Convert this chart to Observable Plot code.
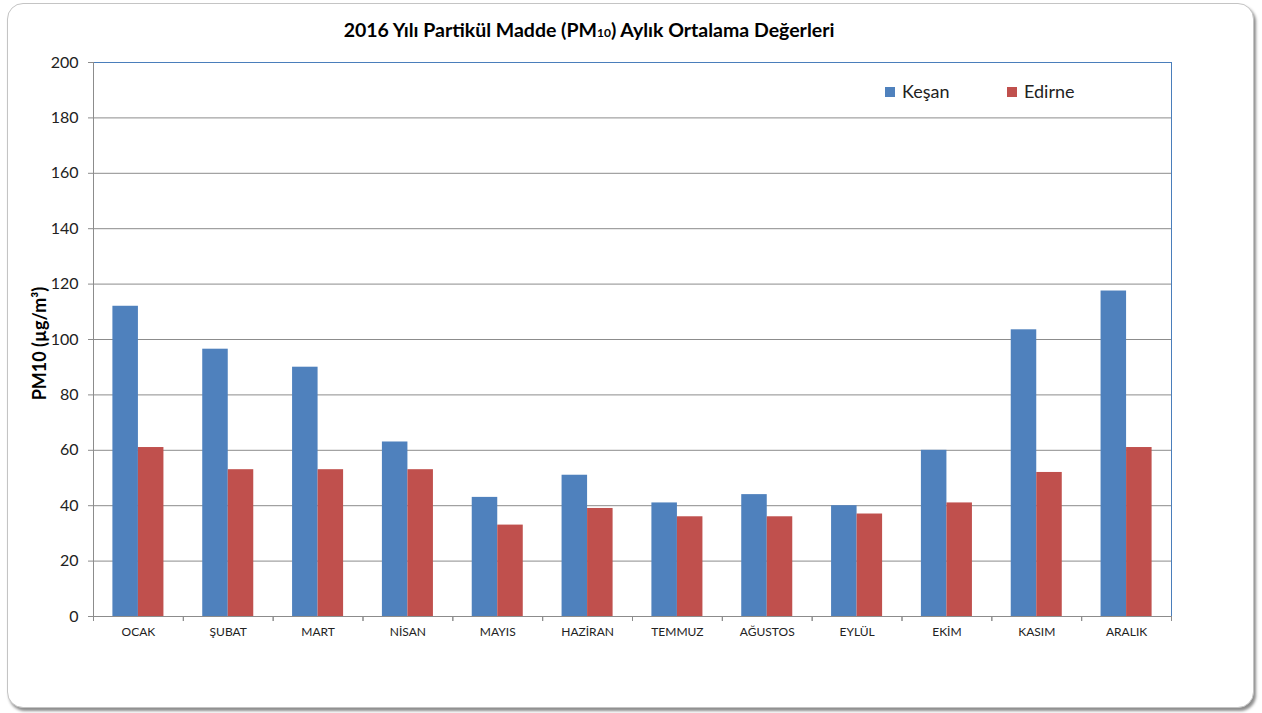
<!DOCTYPE html>
<html><head><meta charset="utf-8">
<script src="https://cdn.jsdelivr.net/npm/d3@7"></script>
<script src="https://cdn.jsdelivr.net/npm/@observablehq/plot@0.6"></script>
<style>
body{margin:0;background:#fff;font-family:Lato,"Open Sans",sans-serif;}
#wrap{position:relative;width:1262px;height:713px;overflow:hidden;background:#fff;}
#frame{position:absolute;left:7px;top:3px;width:1245px;height:703px;border:1px solid #c4c4c4;border-radius:16px;box-shadow:2px 3px 3px rgba(0,0,0,0.45);background:#fff;}
#title{position:absolute;top:18px;left:0;width:1178px;text-align:center;font-weight:bold;font-size:19.5px;color:#000;}
#title sub{font-size:12px;vertical-align:baseline;position:relative;top:0px;}
#chart{position:absolute;left:0;top:0;}
.lg{position:absolute;top:80px;font-size:18px;color:#222;}
.lg span{display:inline-block;width:10px;height:10px;margin-right:7px;vertical-align:1px;}
</style></head>
<body>
<div id="wrap">
<div id="frame"></div>
<div id="chart"></div>
<div id="title">2016 Yılı Partikül Madde (PM<sub>10</sub>) Aylık Ortalama Değerleri</div>
<div class="lg" style="left:885px"><span style="background:#4F81BD"></span>Keşan</div>
<div class="lg" style="left:1007px"><span style="background:#C0504D"></span>Edirne</div>
</div>
<script>
const months = ["OCAK","ŞUBAT","MART","NİSAN","MAYIS","HAZİRAN","TEMMUZ","AĞUSTOS","EYLÜL","EKİM","KASIM","ARALIK"];
const kesan = [112,96.5,90,63,43,51,41,44,40,60,103.5,117.5];
const edirne = [61,53,53,53,33,39,36,36,37,41,52,61];
const yTicks = [0,20,40,60,80,100,120,140,160,180,200];
const seriesNames = ["Keşan","Edirne"];

const rows = months.map((m,i)=>({month:m, kesan:kesan[i], edirne:edirne[i]}));
const W = 1262, H = 713, ml = 93, mr = 91, mt = 62, mb = 97;
const bw = (W - ml - mr) / months.length;
const barW = bw * 0.284;
const outer = bw/2 - barW, inner = bw/2;
const blue = "#4F81BD", red = "#C0504D", grid = "#8c8c8c", frameBlue = "#4a7ebb";

const chart = Plot.plot({
  width: W, height: H,
  marginLeft: ml, marginRight: mr, marginTop: mt, marginBottom: mb,
  style: {fontFamily: "Lato, 'Open Sans', sans-serif", color: "#222", background: "transparent"},
  x: {domain: months, padding: 0, round: false, axis: null},
  y: {domain: [0,200], axis: null},
  marks: [
    Plot.ruleY(yTicks.filter(t => t > 0 && t < 200), {stroke: grid}),
    Plot.barY(rows, {x: "month", y: "kesan", fill: blue, insetLeft: outer, insetRight: inner}),
    Plot.barY(rows, {x: "month", y: "edirne", fill: red, insetLeft: inner, insetRight: outer}),
    Plot.ruleY([200], {stroke: frameBlue}),
    Plot.frame({anchor: "right", stroke: frameBlue}),
    Plot.frame({anchor: "left", stroke: grid}),
    Plot.ruleY([0], {stroke: grid}),
    Plot.axisY({ticks: yTicks, tickSize: 5, tickPadding: 10, fontSize: 16, stroke: grid, label: null}),
    Plot.axisX({tickSize: 5, text: null, dx: -bw/2, stroke: grid, label: null}),
    Plot.axisX({tickSize: 5, text: null, dx: bw/2, stroke: grid, label: null}),
    Plot.axisX({tickSize: 0, tickPadding: 11, fontSize: 12, label: null}),
    Plot.text([ "PM10 (µg/m³)" ], {frameAnchor: "left", textAnchor: "middle", rotate: -90, dx: -53, dy: 4, fontWeight: "bold", fontSize: 18, fill: "#000"})
  ]
});
document.getElementById("chart").appendChild(chart);
</script>
</body></html>
